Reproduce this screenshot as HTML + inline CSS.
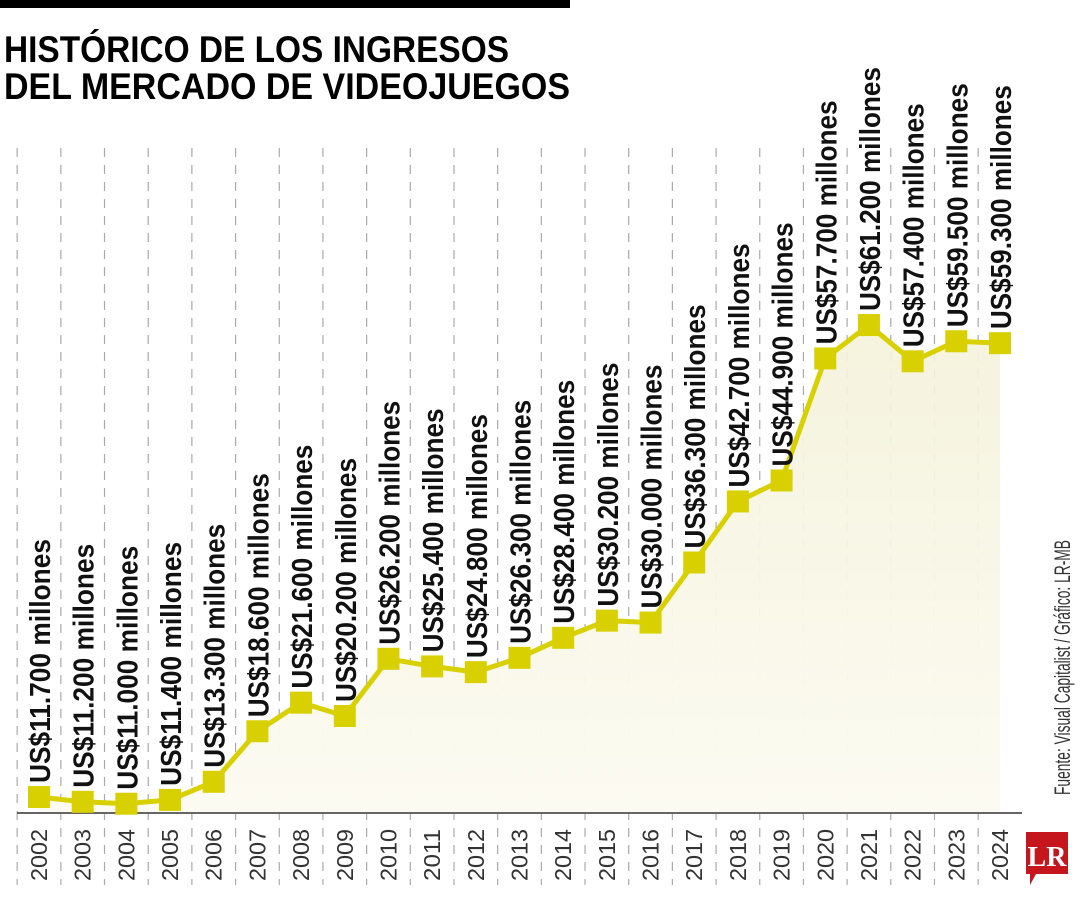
<!DOCTYPE html>
<html><head><meta charset="utf-8">
<style>
html,body{margin:0;padding:0;background:#fff;}
svg{display:block;}
text{font-family:"Liberation Sans Narrow","Liberation Sans",sans-serif;}
</style></head>
<body>
<svg id="chart" width="1080" height="900" viewBox="0 0 1080 900" xmlns="http://www.w3.org/2000/svg">
<defs>
<linearGradient id="fillg" x1="0" y1="0" x2="0" y2="1">
<stop offset="0" stop-color="#f4f2da" stop-opacity="0.9"/>
<stop offset="1" stop-color="#fcfbf2" stop-opacity="1"/>
</linearGradient>
</defs>
<rect x="0" y="0" width="570" height="8" fill="#000"/>
<text x="4" y="62" font-size="37" font-weight="bold" textLength="505" lengthAdjust="spacingAndGlyphs" style="font-family:'Liberation Sans',sans-serif">HISTÓRICO DE LOS INGRESOS</text>
<text x="4" y="99" font-size="37" font-weight="bold" textLength="566" lengthAdjust="spacingAndGlyphs" style="font-family:'Liberation Sans',sans-serif">DEL MERCADO DE VIDEOJUEGOS</text>
<g id="grid"></g>
<path id="area" fill="url(#fillg)"/>
<line x1="17" y1="813" x2="1022" y2="813" stroke="#666" stroke-width="2"/>
<polyline id="line" fill="none" stroke="#d8d000" stroke-width="5" stroke-linejoin="round"/>
<g id="marks"></g>
<g id="labels"></g>
<g id="years"></g>
<text transform="translate(1070,795) rotate(-90)" font-size="22" fill="#333" textLength="255" lengthAdjust="spacingAndGlyphs">Fuente:  Visual Capitalist / Gráfico: LR-MB</text>
<g>
<path d="M1026 832 H1068 V874 H1036 L1030 885 V874 H1026 Z" fill="#c4161c"/>
<text x="1047" y="866" font-size="28" font-weight="bold" fill="#fff" text-anchor="middle" style="font-family:'Liberation Serif',serif">LR</text>
</g>
</svg>
<script>
const years = ["2002","2003","2004","2005","2006","2007","2008","2009","2010","2011","2012","2013","2014","2015","2016","2017","2018","2019","2020","2021","2022","2023","2024"];
const revenue = [11.7,11.2,11.0,11.4,13.3,18.6,21.6,20.2,26.2,25.4,24.8,26.3,28.4,30.2,30.0,36.3,42.7,44.9,57.7,61.2,57.4,59.5,59.3];
const valueLabels = ["US$11.700 millones","US$11.200 millones","US$11.000 millones","US$11.400 millones","US$13.300 millones","US$18.600 millones","US$21.600 millones","US$20.200 millones","US$26.200 millones","US$25.400 millones","US$24.800 millones","US$26.300 millones","US$28.400 millones","US$30.200 millones","US$30.000 millones","US$36.300 millones","US$42.700 millones","US$44.900 millones","US$57.700 millones","US$61.200 millones","US$57.400 millones","US$59.500 millones","US$59.300 millones"];

const NS="http://www.w3.org/2000/svg";
const x0=39, step=(1000-39)/22;
function xScale(i){return x0+i*step;}
function yScale(v){return 908.6-v*9.535;}
function mk(tag,attrs,parent){const e=document.createElementNS(NS,tag);for(const k in attrs)e.setAttribute(k,attrs[k]);parent.appendChild(e);return e;}

const grid=document.getElementById('grid');
for(let i=-1;i<years.length-1;i++){
  const gx=xScale(i)+step/2;
  const l=mk('line',{x1:gx,y1:148,x2:gx,y2:885,stroke:'#aaa','stroke-width':1.2,'stroke-dasharray':'9 8'},grid);
  
  
}
const pts=revenue.map((v,i)=>[xScale(i),yScale(v)]);
document.getElementById('line').setAttribute('points',pts.map(p=>p.join(',')).join(' '));
let d='M'+pts[0][0]+' 813 '+pts.map(p=>'L'+p[0]+' '+p[1]).join(' ')+' L'+pts[pts.length-1][0]+' 813 Z';
document.getElementById('area').setAttribute('d',d);

const marks=document.getElementById('marks'),labels=document.getElementById('labels'),yrs=document.getElementById('years');
revenue.forEach((v,i)=>{
  const cx=xScale(i),cy=yScale(v);
  const r=mk('rect',{x:cx-11,y:cy-11,width:22,height:22,fill:'#d8d000'},marks);
  
  
  const t=mk('text',{transform:'translate('+(cx+11)+','+(cy-14)+') rotate(-90)','font-size':29,'font-weight':'bold',fill:'#111',textLength:244,lengthAdjust:'spacingAndGlyphs'},labels);
  t.textContent=valueLabels[i];
  
  
  const y=mk('text',{transform:'translate('+(cx+8)+',881) rotate(-90)','font-size':23,fill:'#333',textLength:52,lengthAdjust:'spacingAndGlyphs'},yrs);
  y.textContent=years[i];
  
  
});
</script>
</body></html>
